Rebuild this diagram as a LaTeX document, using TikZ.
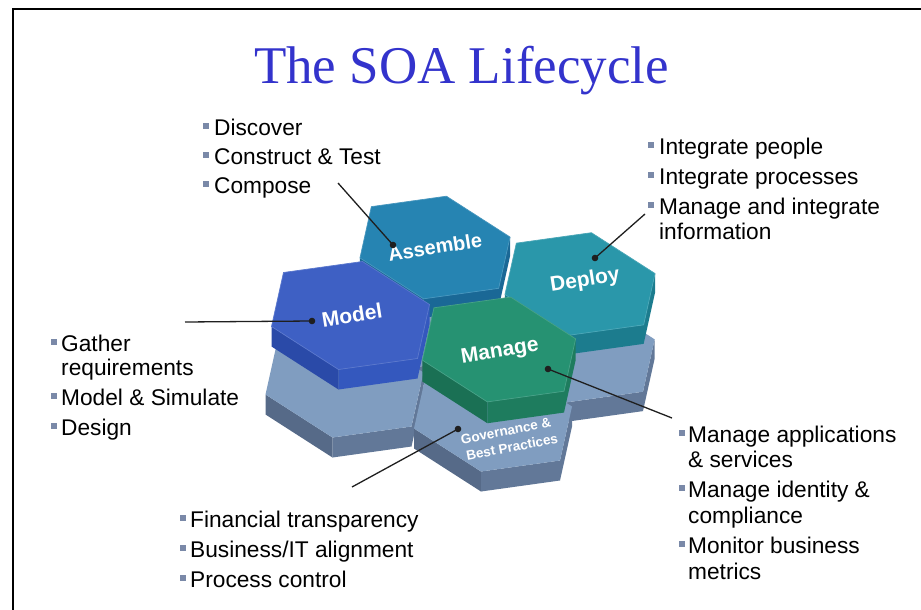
\documentclass[tikz,border=0pt]{standalone}
\usepackage{fontspec}
\setmainfont{Liberation Sans}
\newfontfamily\titlefont{Liberation Serif}
\definecolor{titleblue}{RGB}{51,51,204}
\definecolor{bulletc}{RGB}{122,137,168}
\definecolor{asmTop}{RGB}{38,132,178}
\definecolor{asmSide}{RGB}{26,104,150}
\definecolor{depTop}{RGB}{42,151,170}
\definecolor{depSide}{RGB}{28,124,142}
\definecolor{modTop}{RGB}{62,96,196}
\definecolor{modSideL}{RGB}{42,74,168}
\definecolor{modSideF}{RGB}{52,88,190}
\definecolor{manTop}{RGB}{38,146,114}
\definecolor{manSideL}{RGB}{26,112,84}
\definecolor{manSideF}{RGB}{30,124,94}
\definecolor{baseTop}{RGB}{128,157,192}
\definecolor{baseSideL}{RGB}{86,106,136}
\definecolor{baseSideF}{RGB}{98,120,152}
% cx, cy, scale, thickness, top, left side, front side
\newcommand\hexprism[7]{%
\begin{scope}[shift={(#1,#2)},scale=#3]
\fill[#6] (-79,11) -- (-12,54) -- (-12,{54+#4}) -- (-79,{11+#4}) -- cycle;
\fill[#7] (-12,54) -- (67,43) -- (79,-11) -- (79,{-11+#4}) -- (67,{43+#4}) -- (-12,{54+#4}) -- cycle;
\fill[#5] (79,-11) -- (12,-54) -- (-67,-43) -- (-79,11) -- (-12,54) -- (67,43) -- cycle;
\end{scope}}
\newcommand\hextile[7]{%
\begin{scope}[shift={(#1,#2)},scale=#3]
\fill[#6] (-79,11) -- (-12,54) -- (-12,{54+#4}) -- (-79,{11+#4}) -- cycle;
\fill[#7] (-12,54) -- (67,43) -- (79,-11) -- (79,{-11+#4}) -- (67,{43+#4}) -- (-12,{54+#4}) -- cycle;
\filldraw[fill=#5,draw=#5!85!white,line width=0.7] (79,-11) -- (12,-54) -- (-67,-43) -- (-79,11) -- (-12,54) -- (67,43) -- cycle;
\end{scope}}
\newcommand\bsq[2]{\fill[bulletc] ({#1-3},{#2-12}) rectangle ({#1+3},{#2-6});}
\begin{document}
\begin{tikzpicture}[x=1pt,y=-1pt,
  lst/.style={anchor=base west,inner sep=0pt,font=\fontsize{22.7}{27}\selectfont},
  hexlbl/.style={inner sep=0pt,text=white,font=\bfseries\fontsize{21}{21}\selectfont},
  govlbl/.style={inner sep=0pt,text=white,font=\bfseries\fontsize{13.5}{14}\selectfont},
  conn/.style={draw=black!88,line width=1.3pt},
  dotc/.style={fill=black!88}]
\useasboundingbox (0,0) rectangle (921,610);
\fill[white] (0,0) rectangle (921,610);
% frame
\draw[line width=2.6pt] (13,610) -- (13,9) -- (921,9);
% title
\node[anchor=base,inner sep=0pt,text=titleblue,font=\titlefont\fontsize{53}{60}\selectfont] (title) at (461.5,83) {The SOA Lifecycle};
% base layer (Governance & Best Practices)
\hexprism{429}{315.5}{0.95}{20}{baseTop}{baseSideL}{baseSideF}
\hexprism{578}{350}{0.97}{20}{baseTop}{baseSideL}{baseSideF}
\hexprism{344.5}{383.5}{1}{20}{baseTop}{baseSideL}{baseSideF}
\hexprism{493}{417.5}{1}{20}{baseTop}{baseSideL}{baseSideF}
% top tiles
\hextile{435}{247.5}{0.95}{20}{asmTop}{asmSide}{asmSide}
\hextile{580}{284}{0.95}{20}{depTop}{depSide}{depSide}
\hextile{350.5}{315.5}{1}{20}{modTop}{modSideL}{modSideF}
\hextile{499}{349.5}{0.97}{22}{manTop}{manSideL}{manSideF}
% hex labels
\node[hexlbl,rotate=9,font=\bfseries\fontsize{20}{20}\selectfont] (lA) at (435,247) {Assemble};
\node[hexlbl,rotate=9] (lD) at (585,281) {Deploy};
\node[hexlbl,rotate=9] (lM) at (352,315) {Model};
\node[hexlbl,rotate=9] (lN) at (500,352) {Manage};
\node[govlbl,rotate=11] (lG1) at (506,431) {Governance \&};
\node[govlbl,rotate=11] (lG2) at (512,447) {Best Practices};
% lists
\bsq{206}{135}\node[lst] (a1) at (214,135) {Discover};
\bsq{206}{164}\node[lst] (a2) at (214,164) {Construct \& Test};
\bsq{206}{193}\node[lst] (a3) at (214,193) {Compose};
\bsq{651}{154}\node[lst] (d1) at (659,154) {Integrate people};
\bsq{651}{184}\node[lst] (d2) at (659,184) {Integrate processes};
\bsq{651}{214}\node[lst] (d3) at (659,214) {Manage and integrate};
\node[lst] (d4) at (659,239) {information};
\bsq{54}{351}\node[lst] (m1) at (61,351) {Gather};
\node[lst] (m2) at (61,375) {requirements};
\bsq{54}{405}\node[lst] (m3) at (61,405) {Model \& Simulate};
\bsq{54}{435}\node[lst] (m4) at (61,435) {Design};
\bsq{682}{442}\node[lst] (n1) at (688,442) {Manage applications};
\node[lst] (n2) at (688,467) {\& services};
\bsq{682}{497}\node[lst] (n3) at (688,497) {Manage identity \&};
\node[lst] (n4) at (688,523) {compliance};
\bsq{682}{553}\node[lst] (n5) at (688,553) {Monitor business};
\node[lst] (n6) at (688,579) {metrics};
\bsq{183}{527}\node[lst] (g1) at (190,527) {Financial transparency};
\bsq{183}{557}\node[lst] (g2) at (190,557) {Business/IT alignment};
\bsq{183}{587}\node[lst] (g3) at (190,587) {Process control};
% connectors
\coordinate (cA) at (338,183); \coordinate (pA) at (393,245);
\coordinate (cD) at (645,214); \coordinate (pD) at (595,258);
\coordinate (cM) at (185,322); \coordinate (pM) at (312,321);
\coordinate (cN) at (672,418); \coordinate (pN) at (548,369);
\coordinate (cG) at (352,487); \coordinate (pG) at (458,429);
\draw[conn] (cA) -- (pA);
\draw[conn] (cD) -- (pD);
\draw[conn] (cM) -- (pM);
\draw[conn] (cN) -- (pN);
\draw[conn] (cG) -- (pG);
\foreach \p in {pA,pD,pM,pN,pG} \fill[dotc] (\p) circle (3.3);
\end{tikzpicture}
\end{document}
